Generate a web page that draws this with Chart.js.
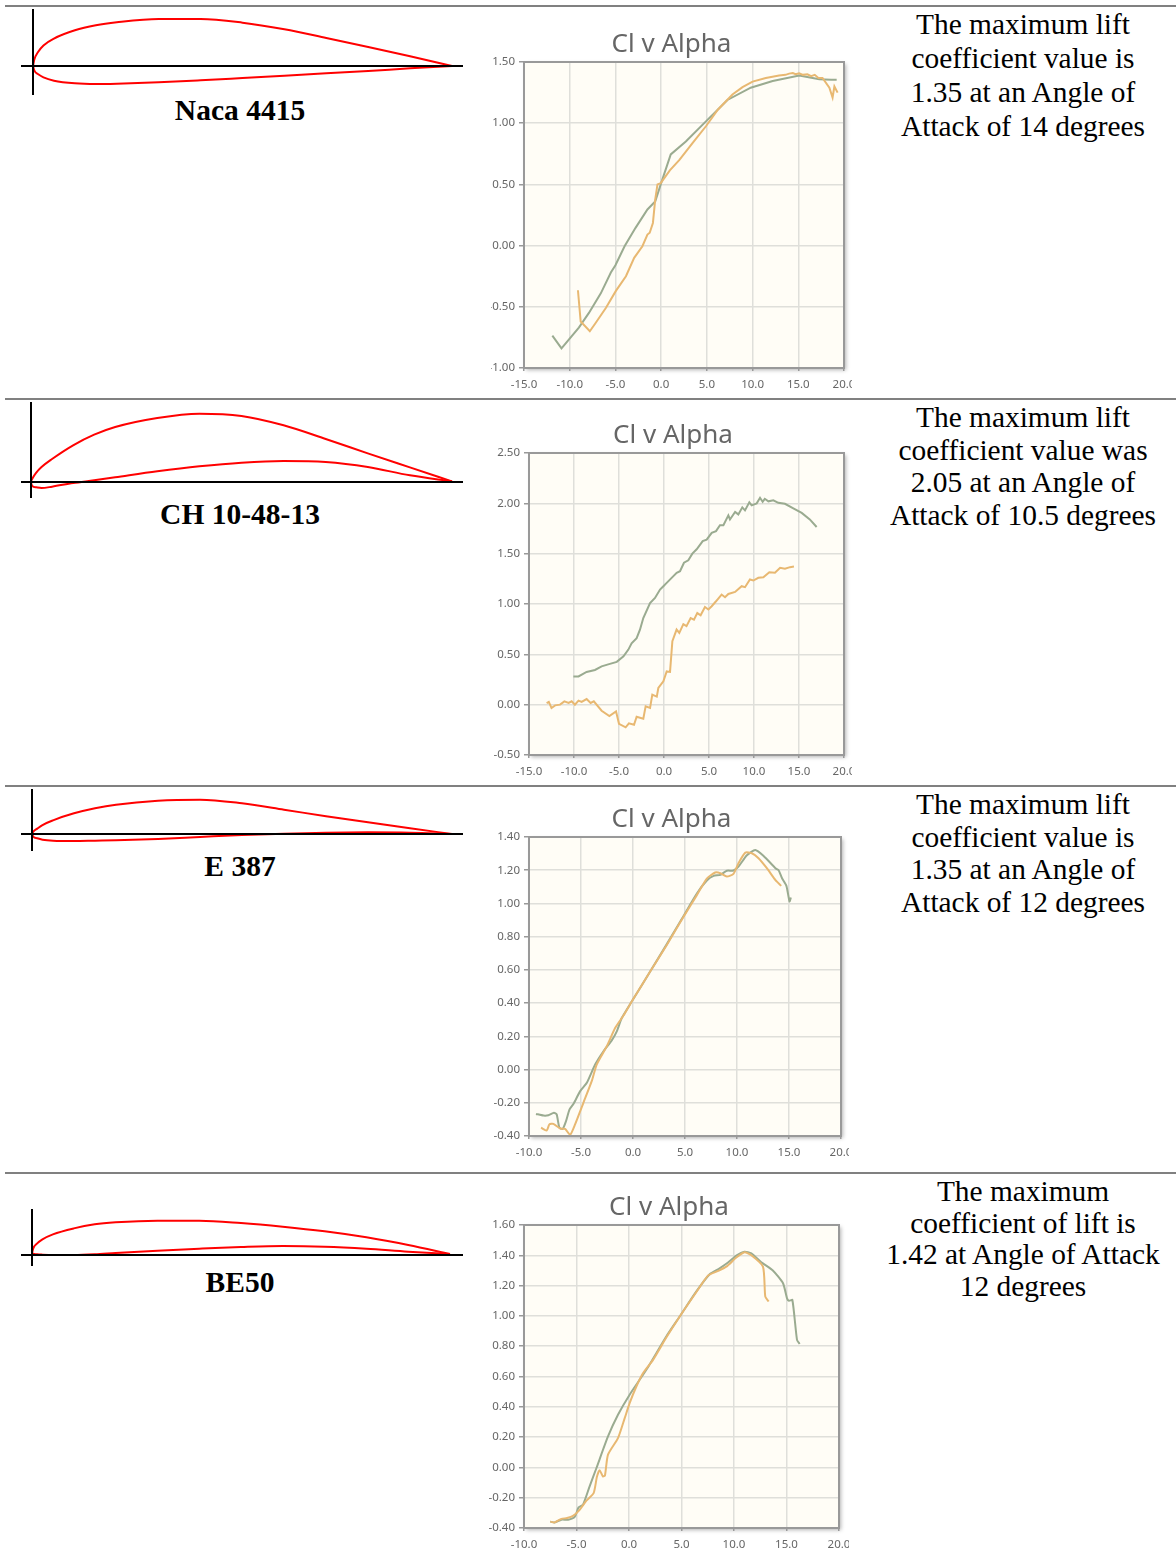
<!DOCTYPE html>
<html>
<head>
<meta charset="utf-8">
<title>Airfoil Cl v Alpha</title>
<script src="https://cdn.jsdelivr.net/npm/chart.js@4/dist/chart.umd.min.js"></script>
<style>
html, body { margin: 0; padding: 0; background: #fff; }
#page { position: relative; width: 1176px; height: 1552px; overflow: hidden; }
#page canvas { position: absolute; }
#page canvas.plot { filter: blur(0.35px); }
.rule { position: absolute; left: 5px; right: 0; height: 2px; background: #808080; }
.name { position: absolute; left: 40px; width: 400px; text-align: center; font: bold 29.5px/34px "Liberation Serif", serif; color: #000; }
.note { position: absolute; left: 870px; width: 306px; text-align: center; font: 29.4px "Liberation Serif", serif; color: #000; }
.note div { white-space: nowrap; }
</style>
</head>
<body>
<div id="page"></div>
<script>
// airfoil names and the text beside each chart
const airfoilNames = ["Naca 4415", "CH 10-48-13", "E 387", "BE50"]
const notes = [
    ["The maximum lift", "coefficient value is", "1.35 at an Angle of", "Attack of 14 degrees"],
    ["The maximum lift", "coefficient value was", "2.05 at an Angle of", "Attack of 10.5 degrees"],
    ["The maximum lift", "coefficient value is", "1.35 at an Angle of", "Attack of 12 degrees"],
    ["The maximum", "coefficient of lift is", "1.42 at Angle of Attack", "12 degrees"]
]
const chartTitle = "Cl v Alpha"

// chord stations shared by all four section outlines
const chord = [0, 0.003, 0.0125, 0.025, 0.05, 0.1, 0.15, 0.2, 0.3, 0.4, 0.5, 0.6, 0.7, 0.8, 0.9, 1]

const nacaUpper = [0, 0.015, 0.034, 0.049, 0.0655, 0.0852, 0.0971, 0.1043, 0.1123, 0.1123, 0.1035, 0.0876, 0.0669, 0.0454, 0.0231, 0]
const nacaLower = [0, -0.0104, -0.0199, -0.0271, -0.035, -0.0414, -0.043, -0.0422, -0.039, -0.0342, -0.0287, -0.0231, -0.0175, -0.0119, -0.0056, 0]
const chUpper = [0.0016, 0.0079, 0.0222, 0.0356, 0.0546, 0.0871, 0.1124, 0.1306, 0.152, 0.1623, 0.1568, 0.1346, 0.1021, 0.0681, 0.0348, 0.0016]
const chLower = [-0.0016, -0.0095, -0.0127, -0.0143, -0.0111, -0.0024, 0.004, 0.0111, 0.0253, 0.0372, 0.0459, 0.0499, 0.0475, 0.0356, 0.0158, 0.0016]
const e387Upper = [0, 0.0056, 0.0127, 0.0214, 0.0326, 0.0492, 0.0612, 0.0699, 0.0794, 0.0818, 0.0731, 0.058, 0.0421, 0.0278, 0.0135, 0]
const e387Lower = [0, -0.0064, -0.0103, -0.0135, -0.0159, -0.0167, -0.0159, -0.0151, -0.0119, -0.0071, -0.0024, 0.0008, 0.0032, 0.004, 0.0032, 0]
const be50Upper = [0.004, 0.0159, 0.0279, 0.0375, 0.0494, 0.0637, 0.0733, 0.0781, 0.0821, 0.0821, 0.0765, 0.0677, 0.0566, 0.0422, 0.0239, 0.0024]
const be50Lower = [0.004, 0.0032, 0.0016, 0.0008, 0, 0, 0.0016, 0.0048, 0.0104, 0.0151, 0.0191, 0.0215, 0.0199, 0.0151, 0.008, 0.0024]

// Cl v Alpha, series
const nacaGreenAlpha = [-11.9, -10.9, -9, -7.9, -6.6, -5.5, -5, -4, -2.8, -1.5, -0.65, 0, 1.05, 2.7, 4.9, 7.25, 9.8, 12.2, 15.1, 17.3, 18.6, 19.2]
const nacaGreenCl = [-0.735, -0.84, -0.67, -0.55, -0.39, -0.22, -0.16, -0.005, 0.145, 0.295, 0.36, 0.51, 0.745, 0.85, 1.015, 1.19, 1.29, 1.345, 1.39, 1.36, 1.355, 1.355]
const nacaOrangeAlpha = [-9.1, -8.8, -7.8, -7.15, -6.05, -4.95, -3.85, -2.95, -2.05, -1.5, -1.25, -0.9, -0.65, -0.4, -0.05, 0.5, 0.95, 2, 3.45, 4.9, 6.2, 7.8, 8.9, 10, 11.45, 12.9, 13.6, 14, 14.4, 14.7, 15.1, 15.5, 16, 16.4, 16.8, 17.2, 17.65, 18.4, 18.75, 18.95, 19.3]
const nacaOrangeCl = [-0.365, -0.62, -0.7, -0.63, -0.51, -0.37, -0.25, -0.1, -0.005, 0.09, 0.105, 0.185, 0.375, 0.5, 0.51, 0.567, 0.615, 0.7, 0.84, 0.975, 1.11, 1.235, 1.295, 1.34, 1.37, 1.39, 1.395, 1.405, 1.41, 1.4, 1.408, 1.395, 1.4, 1.385, 1.395, 1.37, 1.37, 1.29, 1.21, 1.3, 1.25]

const chGreenAlpha = [-10.07, -9.5, -8.6, -7.67, -6.93, -6.2, -5.25, -4.5, -3.96, -3.6, -3.04, -2.67, -2.3, -1.55, -1, -0.44, -0.07, 0.3, 0.85, 1.41, 1.78, 2.22, 2.7, 3.15, 3.63, 4.3, 4.74, 5.3, 5.78, 6.22, 6.6, 7.15, 7.33, 7.9, 8.26, 8.7, 9, 9.48, 9.74, 10.3, 10.67, 10.96, 11.2, 11.6, 12.15, 12.7, 13.44, 14.37, 15.3, 16.2, 16.96]
const chGreenCl = [0.28, 0.28, 0.325, 0.345, 0.38, 0.4, 0.425, 0.48, 0.547, 0.61, 0.66, 0.745, 0.86, 1.01, 1.06, 1.143, 1.177, 1.21, 1.26, 1.31, 1.326, 1.41, 1.434, 1.5, 1.544, 1.625, 1.64, 1.707, 1.724, 1.783, 1.783, 1.88, 1.84, 1.915, 1.89, 1.96, 1.93, 2.01, 1.98, 2, 2.055, 2.015, 2.045, 2.02, 2.03, 2.005, 1.995, 1.95, 1.905, 1.84, 1.765]
const chOrangeAlpha = [-13.04, -12.8, -12.5, -12.1, -11.55, -11.07, -10.6, -10.26, -9.9, -9.5, -9.15, -8.6, -8.15, -7.8, -6.93, -6.07, -5.33, -5, -4.26, -3.9, -3.33, -3.04, -2.3, -2.04, -1.55, -1.3, -0.8, -0.63, -0.07, 0.3, 0.67, 0.93, 1.4, 1.7, 2.15, 2.5, 2.96, 3.33, 3.7, 4.07, 4.55, 4.93, 5.3, 5.78, 6.4, 6.78, 7.15, 7.9, 8.63, 9, 9.55, 9.93, 10.48, 11.04, 11.7, 12.33, 12.9, 13.44, 14, 14.44]
const chOrangeCl = [0.015, 0.027, -0.033, -0.007, 0, 0.033, 0.017, 0.033, 0, 0.04, 0.027, 0.056, 0.017, 0.033, -0.06, -0.113, -0.066, -0.19, -0.225, -0.186, -0.2, -0.12, -0.14, -0.017, -0.033, 0.1, 0.08, 0.166, 0.232, 0.33, 0.325, 0.63, 0.746, 0.713, 0.8, 0.78, 0.86, 0.845, 0.91, 0.888, 0.97, 0.945, 0.978, 1.027, 1.094, 1.067, 1.1, 1.12, 1.177, 1.167, 1.243, 1.233, 1.26, 1.266, 1.316, 1.31, 1.36, 1.35, 1.366, 1.372]

const e387GreenAlpha = [-9.33, -8.6, -8.14, -7.6, -7.34, -7.08, -6.76, -6.44, -6.1, -5.7, -5.08, -4.44, -3.64, -2.84, -2.04, -1.56, -1.08, -0.02, 1.65, 3.25, 4.86, 6.14, 7.1, 7.75, 8.4, 9.02, 9.66, 10.14, 10.95, 11.76, 12.56, 13.7, 14, 14.33, 14.75, 15.05, 15.18]
const e387GreenCl = [-0.267, -0.277, -0.275, -0.26, -0.27, -0.35, -0.357, -0.31, -0.24, -0.204, -0.13, -0.08, 0.03, 0.11, 0.176, 0.23, 0.31, 0.42, 0.59, 0.755, 0.925, 1.06, 1.138, 1.166, 1.172, 1.197, 1.198, 1.222, 1.29, 1.322, 1.286, 1.212, 1.2, 1.152, 1.106, 1.012, 1.036]
const e387OrangeAlpha = [-8.84, -8.3, -8.04, -7.66, -7, -6.53, -6.05, -5.57, -4.77, -3.97, -3.49, -2.52, -1.72, -0.92, -0.02, 1.65, 3.25, 4.86, 6.14, 7.1, 7.9, 8.4, 9.02, 9.66, 10.14, 10.8, 11.43, 12.07, 12.87, 13.7, 14.25]
const e387OrangeCl = [-0.35, -0.367, -0.33, -0.327, -0.355, -0.357, -0.393, -0.33, -0.2, -0.07, 0.03, 0.14, 0.25, 0.325, 0.42, 0.59, 0.75, 0.92, 1.05, 1.15, 1.186, 1.182, 1.162, 1.178, 1.242, 1.306, 1.302, 1.272, 1.212, 1.14, 1.106]

const be50GreenAlpha = [-7.5, -7.08, -6.44, -5.8, -5.17, -4.8, -4.38, -3.75, -3.1, -2, -1.05, 0.06, 1.65, 3.55, 4.83, 6.4, 7.68, 8.63, 9.43, 10.22, 11, 11.65, 12.6, 13.7, 14.67, 15.05, 15.24, 15.56, 16, 16.25]
const be50GreenCl = [-0.358, -0.363, -0.345, -0.345, -0.327, -0.264, -0.246, -0.125, -0.004, 0.204, 0.347, 0.48, 0.644, 0.864, 0.996, 1.16, 1.275, 1.314, 1.352, 1.398, 1.424, 1.413, 1.354, 1.3, 1.215, 1.116, 1.1, 1.105, 0.842, 0.815]
const be50OrangeAlpha = [-7.5, -7.08, -6.44, -5.9, -5.33, -4.7, -4.06, -3.37, -3.05, -2.8, -2.48, -2.29, -2, -1.05, -0.41, 0.06, 0.7, 1.33, 2.29, 3.55, 4.83, 6.4, 7.52, 8.48, 9.27, 10.22, 11, 11.65, 12.76, 12.98, 13.3]
const be50OrangeCl = [-0.358, -0.363, -0.34, -0.334, -0.32, -0.28, -0.22, -0.17, -0.06, -0.018, -0.06, -0.053, 0.084, 0.193, 0.325, 0.424, 0.534, 0.622, 0.71, 0.857, 0.996, 1.156, 1.266, 1.297, 1.325, 1.385, 1.42, 1.4, 1.325, 1.127, 1.095]

// tick labels
const nacaAlphaTicks = [-15, -10, -5, 0, 5, 10, 15, 20]
const nacaClTicks = [-1, -0.5, 0, 0.5, 1, 1.5]
const chAlphaTicks = [-15, -10, -5, 0, 5, 10, 15, 20]
const chClTicks = [-0.5, 0, 0.5, 1, 1.5, 2, 2.5]
const e387AlphaTicks = [-10, -5, 0, 5, 10, 15, 20]
const e387ClTicks = [-0.4, -0.2, 0, 0.2, 0.4, 0.6, 0.8, 1, 1.2, 1.4]
const be50AlphaTicks = [-10, -5, 0, 5, 10, 15, 20]
const be50ClTicks = [-0.4, -0.2, 0, 0.2, 0.4, 0.6, 0.8, 1, 1.2, 1.4, 1.6]

// page layout, one entry per row
const ruleTops = [5, 398, 785, 1172]
const nameTops = [93, 497, 849, 1265]
const noteTops = [7, 401, 788, 1176]
const noteLineHeights = [34, 32.7, 32.7, 31.7]
const outlineBoxes = [
    { top: 9, bottom: 95, axisX: 33, axisY: 66, scale: 419 },
    { top: 402, bottom: 498, axisX: 31, axisY: 482, scale: 421 },
    { top: 789, bottom: 851, axisX: 32, axisY: 834, scale: 420 },
    { top: 1209, bottom: 1266, axisX: 32, axisY: 1255, scale: 418 }
]
const plotBoxes = [
    { canvasLeft: 491, canvasRight: 852, left: 524, right: 844, top: 62, bottom: 368, tension: 0 },
    { canvasLeft: 494, canvasRight: 852, left: 529, right: 844, top: 453, bottom: 755, tension: 0 },
    { canvasLeft: 494, canvasRight: 849, left: 529, right: 841, top: 837, bottom: 1136, tension: 0.2 },
    { canvasLeft: 489, canvasRight: 849, left: 524, right: 839, top: 1225, bottom: 1528, tension: 0.2 }
]

const page = document.getElementById("page")
const uiFont = "'Noto Sans', sans-serif"
const greenLine = "#9aab90"
const orangeLine = "#e8b871"

function zip(xs, ys) {
    return xs.map((x, i) => ({ x: x, y: ys[i] }))
}

function addCanvas(left, top, width, height) {
    const canvas = document.createElement("canvas")
    canvas.width = width
    canvas.height = height
    canvas.style.left = left + "px"
    canvas.style.top = top + "px"
    canvas.style.width = width + "px"
    canvas.style.height = height + "px"
    page.appendChild(canvas)
    return canvas
}

// background, soft shadow and border of the plot area
const plotFrame = {
    id: "plotFrame",
    afterLayout(chart) {
        // y labels are clipped to the scale box, let them run to the canvas edge
        chart.scales.y.left = 0
    },
    beforeDraw(chart) {
        const { ctx, chartArea: a } = chart
        ctx.save()
        ctx.shadowColor = "rgba(0,0,0,0.3)"
        ctx.shadowBlur = 4
        ctx.shadowOffsetX = 2
        ctx.shadowOffsetY = 2
        ctx.fillStyle = "#fffdf6"
        ctx.fillRect(a.left, a.top, a.width, a.height)
        ctx.restore()
    },
    afterDraw(chart) {
        const { ctx, chartArea: a } = chart
        ctx.save()
        ctx.strokeStyle = "#999999"
        ctx.lineWidth = 2
        ctx.strokeRect(a.left, a.top, a.width, a.height)
        ctx.restore()
    }
}

function drawOutline(box, upper, lower) {
    const left = 21, right = 463
    const canvas = addCanvas(left, box.top, right - left, box.bottom - box.top)
    const axisLine = { display: true, color: "#000", width: 2, z: 1 }
    const surface = values => ({
        data: zip(chord, values),
        showLine: true,
        borderColor: "#ff0000",
        borderWidth: 2,
        cubicInterpolationMode: "monotone",
        pointRadius: 0,
        clip: false
    })
    new Chart(canvas.getContext("2d"), {
        type: "scatter",
        data: { datasets: [surface(upper), surface(lower)] },
        options: {
            responsive: false,
            animation: false,
            devicePixelRatio: 1,
            layout: { autoPadding: false },
            plugins: { legend: { display: false }, tooltip: { enabled: false } },
            scales: {
                x: {
                    type: "linear",
                    position: { y: 0 },
                    min: (left - box.axisX) / box.scale,
                    max: (right - box.axisX) / box.scale,
                    grid: { display: false },
                    ticks: { display: false },
                    border: axisLine
                },
                y: {
                    type: "linear",
                    position: { x: 0 },
                    min: (box.axisY - box.bottom) / box.scale,
                    max: (box.axisY - box.top) / box.scale,
                    grid: { display: false },
                    ticks: { display: false },
                    border: axisLine
                }
            }
        }
    })
}

function tickAxis(list, digits) {
    return {
        type: "linear",
        min: list[0],
        max: list[list.length - 1],
        afterBuildTicks: scale => { scale.ticks = list.map(v => ({ value: v })) },
        grid: { color: "#dfdfda", lineWidth: 1.5, tickColor: "#999999" },
        border: { display: false },
        ticks: {
            color: "#666666",
            font: { family: uiFont, size: 11.5 },
            maxRotation: 0,
            autoSkip: false,
            callback: value => Number(value).toFixed(digits)
        }
    }
}

function drawPlot(box, alphaTicks, clTicks, green, orange) {
    const titleSpace = 30
    const labelSpace = 24
    const top = box.top - titleSpace
    const sideSpace = box.canvasRight - box.right
    const canvas = addCanvas(box.canvasLeft, top, box.canvasRight - box.canvasLeft, box.bottom + labelSpace - top)
    canvas.className = "plot"
    const line = (points, color) => ({
        data: points, showLine: true, borderColor: color, borderWidth: 2, tension: box.tension, pointRadius: 0
    })

    const xAxis = tickAxis(alphaTicks, 1)
    xAxis.grid.tickLength = 3
    xAxis.ticks.padding = 7
    xAxis.afterFit = scale => {
        scale.height = labelSpace
        scale.paddingLeft = 0
        scale.paddingRight = 0
    }

    const yAxis = tickAxis(clTicks, 2)
    yAxis.grid.tickLength = 5
    yAxis.ticks.padding = 4
    yAxis.afterFit = scale => {
        scale.width = box.left - box.canvasLeft - sideSpace
        scale.paddingTop = 0
        scale.paddingBottom = 0
    }

    new Chart(canvas.getContext("2d"), {
        type: "scatter",
        data: { datasets: [line(orange, orangeLine), line(green, greenLine)] },
        options: {
            responsive: false,
            animation: false,
            devicePixelRatio: 1,
            // equal side padding keeps the title centred on the canvas
            layout: { autoPadding: false, padding: { left: sideSpace, right: sideSpace } },
            plugins: {
                legend: { display: false },
                tooltip: { enabled: false },
                title: {
                    display: true,
                    text: chartTitle,
                    color: "#666666",
                    font: { family: uiFont, size: 26, weight: "normal", lineHeight: 1 },
                    padding: { top: 0, bottom: titleSpace - 26 }
                }
            },
            scales: { x: xAxis, y: yAxis }
        },
        plugins: [plotFrame]
    })
}

function addRowText(i) {
    const rule = document.createElement("div")
    rule.className = "rule"
    rule.style.top = ruleTops[i] + "px"
    page.appendChild(rule)

    const name = document.createElement("div")
    name.className = "name"
    name.style.top = nameTops[i] + "px"
    name.textContent = airfoilNames[i]
    page.appendChild(name)

    const note = document.createElement("div")
    note.className = "note"
    note.style.top = noteTops[i] + "px"
    note.style.lineHeight = noteLineHeights[i] + "px"
    notes[i].forEach(text => {
        const line = document.createElement("div")
        line.textContent = text
        note.appendChild(line)
    })
    page.appendChild(note)
}

airfoilNames.forEach((_, i) => addRowText(i))

drawOutline(outlineBoxes[0], nacaUpper, nacaLower)
drawOutline(outlineBoxes[1], chUpper, chLower)
drawOutline(outlineBoxes[2], e387Upper, e387Lower)
drawOutline(outlineBoxes[3], be50Upper, be50Lower)

drawPlot(plotBoxes[0], nacaAlphaTicks, nacaClTicks, zip(nacaGreenAlpha, nacaGreenCl), zip(nacaOrangeAlpha, nacaOrangeCl))
drawPlot(plotBoxes[1], chAlphaTicks, chClTicks, zip(chGreenAlpha, chGreenCl), zip(chOrangeAlpha, chOrangeCl))
drawPlot(plotBoxes[2], e387AlphaTicks, e387ClTicks, zip(e387GreenAlpha, e387GreenCl), zip(e387OrangeAlpha, e387OrangeCl))
drawPlot(plotBoxes[3], be50AlphaTicks, be50ClTicks, zip(be50GreenAlpha, be50GreenCl), zip(be50OrangeAlpha, be50OrangeCl))
</script>
</body>
</html>
